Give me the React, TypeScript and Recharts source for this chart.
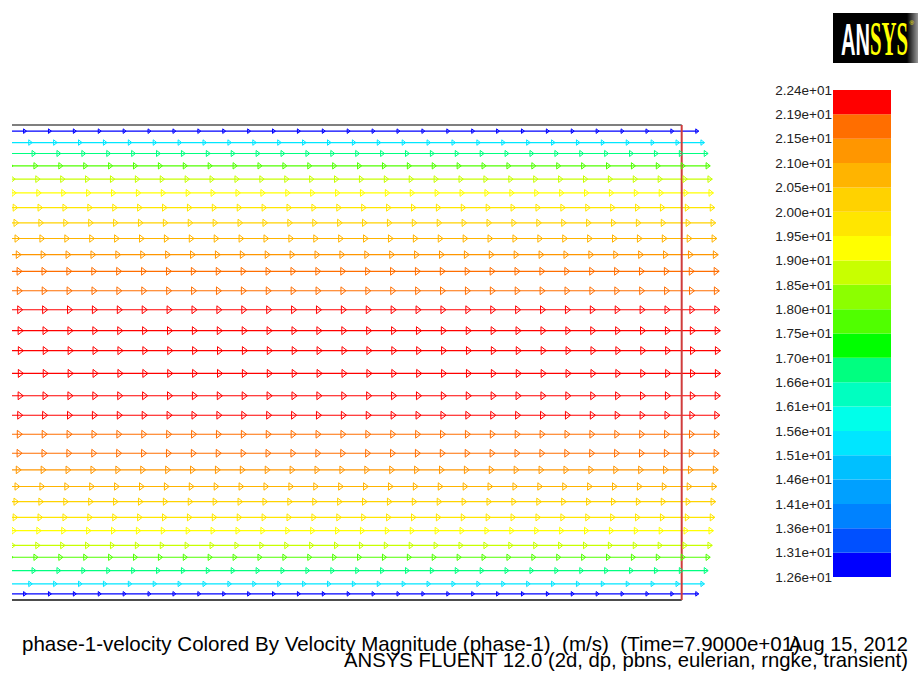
import React from 'react';
import { LineChart, Line, XAxis, YAxis, ReferenceLine, BarChart, Bar } from 'recharts';

// colour scale, bottom to top, as printed beside the bar (m/s)
const scaleLabels = [
  '1.26e+01', '1.31e+01', '1.36e+01', '1.41e+01', '1.46e+01', '1.51e+01', '1.56e+01',
  '1.61e+01', '1.66e+01', '1.70e+01', '1.75e+01', '1.80e+01', '1.85e+01', '1.90e+01',
  '1.95e+01', '2.00e+01', '2.05e+01', '2.10e+01', '2.15e+01', '2.19e+01', '2.24e+01',
];
const scaleColors = [
  '#0000ff', '#0050ff', '#0082ff', '#00a0ff', '#00c0ff', '#00e6ff', '#00ffea',
  '#00ffc0', '#00ff80', '#00ff00', '#50ff00', '#8cff00', '#c8ff00', '#ffff00',
  '#ffe600', '#ffd200', '#ffb400', '#ff9600', '#ff6e00', '#ff0000',
];

// cell centres along the channel (in cell widths)
const cellX = [-1, 0, 1, 2, 3, 4, 5, 6, 7, 8, 9, 10, 11, 12, 13, 14, 15, 16, 17, 18, 19, 20, 21, 22, 23, 24, 25, 26, 27];

// vector rows, top wall to bottom wall: height (% of channel) and speed (m/s)
const rowY = [
  98.7, 96.3, 94.0, 91.4, 88.6, 85.7, 82.6, 79.4, 76.1, 72.7, 69.2, 65.1, 61.1, 56.7, 52.5,
  47.7, 43.0, 38.9, 34.9, 30.9, 27.4, 23.9, 20.7, 17.4, 14.6, 11.5, 9.0, 6.2, 3.4, 1.3,
];
const rowSpeed = [
  12.8, 15.3, 16.9, 17.8, 18.7, 19.2, 19.8, 20.2, 20.7, 21.3, 21.7, 21.8, 22.0, 22.2, 22.3,
  22.3, 22.2, 22.0, 21.8, 21.7, 21.3, 20.7, 20.2, 19.8, 19.2, 18.7, 17.8, 16.9, 15.3, 12.8,
];

const channelLength = 27.5;
const channelHeight = 100;
const vectorScale = 0.0924; // cell widths per m/s

const edges = scaleLabels.map((s) => parseFloat(s));
const colorFor = (v: number) => {
  let i = 0;
  while (i < scaleColors.length - 1 && v >= edges[i + 1]) i++;
  return scaleColors[i];
};

const rows = rowY.map((y, r) => {
  const v = rowSpeed[r];
  const len = v * vectorScale;
  const pts = [{ x: cellX[0], y, tip: false }, ...cellX.map((c) => ({ x: c + len, y, tip: true }))];
  return { v, color: colorFor(v), pts };
});

const arrowDot = (v: number, color: string) => (p: any) => {
  const { cx, cy, payload, index } = p;
  if (!payload || !payload.tip || cx == null) return <g key={`n${index}`} />;
  const w = v * 0.23;
  const h = v * 0.18;
  return (
    <polygon
      key={`a${index}`}
      points={`${cx},${cy} ${cx - w},${cy - h} ${cx - w},${cy + h}`}
      fill="none"
      stroke={color}
      strokeWidth={1}
    />
  );
};

const bandData = [Object.fromEntries(scaleColors.map((_, i) => [`b${i}`, 1]))];
const font = 'Liberation Sans, Arial, sans-serif';

export default function App() {
  return (
    <div style={{ position: 'fixed', left: 0, top: 0, width: 919, height: 675, background: '#fff', overflow: 'hidden' }}>
      <LineChart width={919} height={675} margin={{ top: 115, right: 190, bottom: 65, left: 12 }}>
        <XAxis type="number" dataKey="x" domain={[0.6, 29.4]} allowDataOverflow hide />
        <YAxis type="number" dataKey="y" domain={[-2.1, 102.1]} allowDataOverflow hide />
        {rows.map((row, r) => (
          <Line
            key={r}
            data={row.pts}
            dataKey="y"
            stroke={row.color}
            strokeWidth={1.2}
            dot={arrowDot(row.v, row.color)}
            activeDot={false}
            isAnimationActive={false}
          />
        ))}
        <ReferenceLine
          segment={[{ x: cellX[0], y: channelHeight }, { x: channelLength, y: channelHeight }]}
          stroke="#555"
          strokeWidth={1.6}
          ifOverflow="hidden"
        />
        <ReferenceLine
          segment={[{ x: cellX[0], y: 0 }, { x: channelLength, y: 0 }]}
          stroke="#111"
          strokeWidth={1.6}
          ifOverflow="hidden"
        />
        <ReferenceLine
          segment={[{ x: channelLength, y: 0 }, { x: channelLength, y: channelHeight }]}
          stroke="#d03c3c"
          strokeWidth={2}
          ifOverflow="hidden"
        />
      </LineChart>

      <div style={{ position: 'absolute', left: 760, top: 80 }}>
        <BarChart width={140} height={510} data={bandData} margin={{ top: 10, right: 9, bottom: 13, left: 0 }} barCategoryGap={0}>
          <XAxis type="category" hide />
          <YAxis
            type="number"
            domain={[0, 20]}
            ticks={scaleLabels.map((_, i) => i)}
            tickFormatter={(i: number) => scaleLabels[i]}
            interval={0}
            width={73}
            axisLine={false}
            tickLine={false}
            tickSize={0}
            tickMargin={1}
            tick={{ fontSize: 13.5, fill: '#222', fontFamily: font }}
          />
          {scaleColors.map((c, i) => (
            <Bar key={i} dataKey={`b${i}`} stackId="s" fill={c} isAnimationActive={false} />
          ))}
        </BarChart>
      </div>

      <svg width={919} height={675} style={{ position: 'absolute', left: 0, top: 0, pointerEvents: 'none' }}>
        <defs>
          <linearGradient id="logoFade" x1="0" x2="1" y1="0" y2="0">
            <stop offset="0" stopColor="#000" />
            <stop offset="1" stopColor="#9a9a9a" />
          </linearGradient>
        </defs>
        <rect x={833} y={13} width={74} height={50} fill="#000" />
        <rect x={907} y={13} width={11} height={50} fill="url(#logoFade)" />
        <text x={841} y={54.5} fill="#fff" fontFamily={font} fontWeight="bold" fontSize={45} textLength={29} lengthAdjust="spacingAndGlyphs">AN</text>
        <text x={870} y={54.5} fill="#ffff00" fontFamily="Liberation Serif, serif" fontWeight="bold" fontSize={49} textLength={38} lengthAdjust="spacingAndGlyphs">SYS</text>
        <text x={909.5} y={25} fill="#ffff00" fontFamily={font} fontSize={6}>®</text>

        <text x={22} y={651} fontFamily={font} fontSize={21} fill="#000" textLength={778} lengthAdjust="spacingAndGlyphs" style={{ whiteSpace: 'pre' }}>
          phase-1-velocity Colored By Velocity Magnitude (phase-1)  (m/s)  (Time=7.9000e+01)
        </text>
        <text x={789} y={651} fontFamily={font} fontSize={21} fill="#000" textLength={119} lengthAdjust="spacingAndGlyphs">
          Aug 15, 2012
        </text>
        <text x={344} y={667} fontFamily={font} fontSize={21} fill="#000" textLength={564} lengthAdjust="spacingAndGlyphs">
          ANSYS FLUENT 12.0 (2d, dp, pbns, eulerian, rngke, transient)
        </text>
      </svg>
    </div>
  );
}
